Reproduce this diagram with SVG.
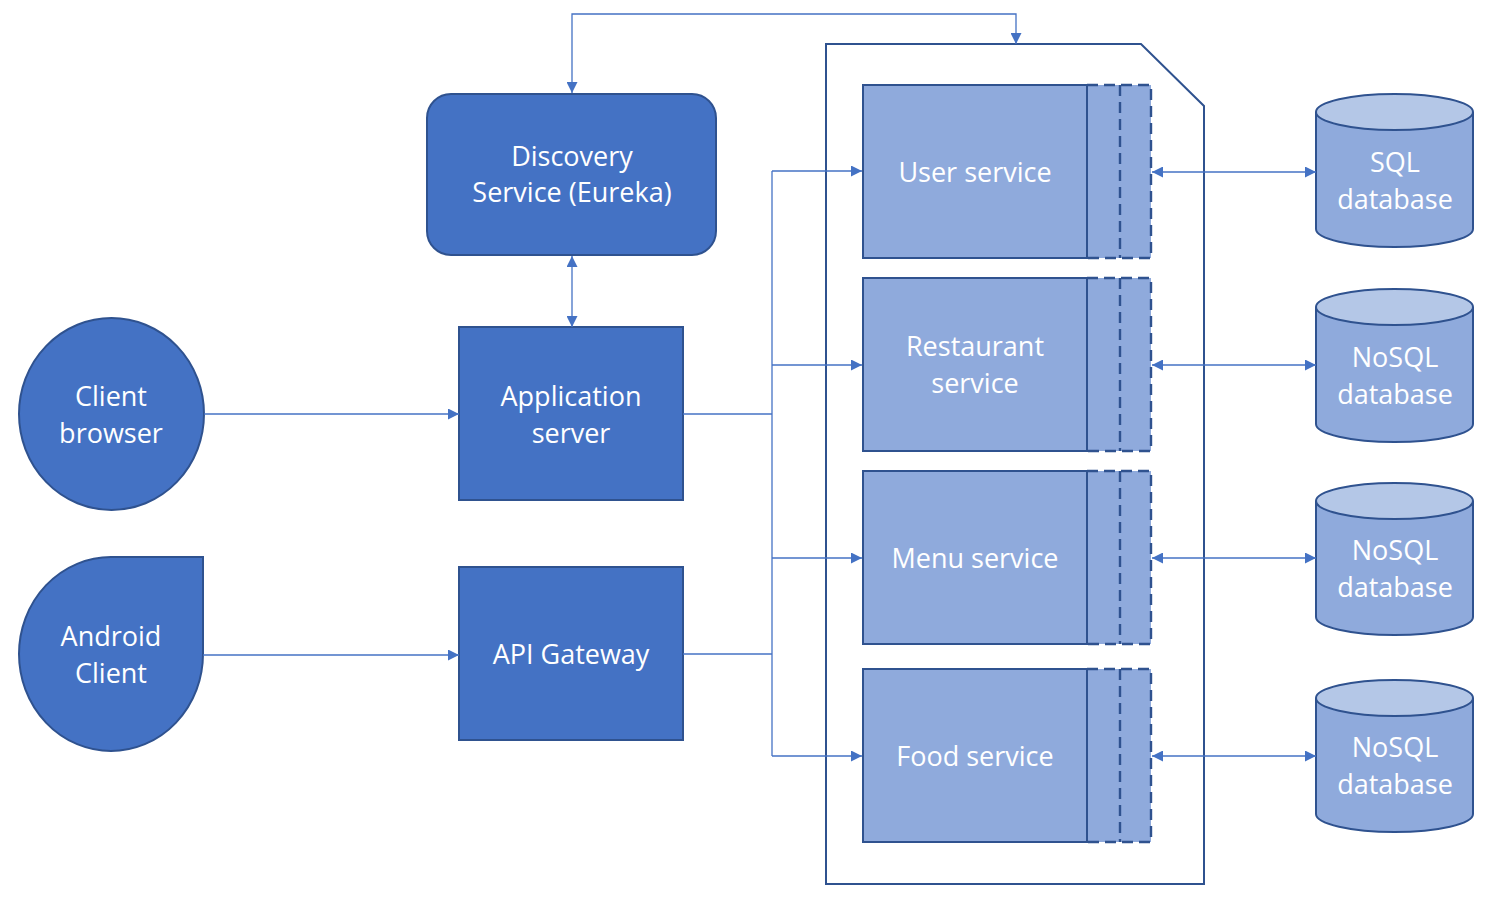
<svg xmlns="http://www.w3.org/2000/svg" width="1503" height="904" viewBox="0 0 1503 904">
<defs>
<style>
.dk{fill:#4472C4;stroke:#2F528F;stroke-width:2}
.lt{fill:#8FAADC;stroke:#2F528F;stroke-width:2}
.dash{fill:none;stroke:#2F528F;stroke-width:2.4;stroke-dasharray:11,6}
.t{font-family:"Open Sans","Noto Sans",sans-serif;font-size:27px;fill:#FFFFFF;text-anchor:middle}
.c{fill:none;stroke:#4472C4;stroke-width:1.3}
</style>
<marker id="a" viewBox="0 0 10 10" refX="10" refY="5" markerWidth="11" markerHeight="11" markerUnits="userSpaceOnUse" orient="auto-start-reverse">
<path d="M0 0 L10 5 L0 10 Z" fill="#4472C4"/>
</marker>
</defs>
<rect width="1503" height="904" fill="#FFFFFF"/>

<g id="container">
<path d="M826 44 L1141 44 L1204 106 L1204 884 L826 884 Z" fill="none" stroke="#2F528F" stroke-width="2"/>
</g>

<g id="discovery">
<rect x="427" y="94" width="289" height="161" rx="24" class="dk"/>
<text class="t" x="572" y="166">Discovery</text>
<text class="t" x="572" y="202">Service (Eureka)</text>
</g>

<g id="app-server">
<rect x="459" y="327" width="224" height="173" class="dk"/>
<text class="t" x="571" y="406">Application</text>
<text class="t" x="571" y="443">server</text>
</g>

<g id="api-gateway">
<rect x="459" y="567" width="224" height="173" class="dk"/>
<text class="t" x="571" y="664">API Gateway</text>
</g>

<g id="client-browser">
<ellipse cx="111.5" cy="414" rx="92.5" ry="96" class="dk"/>
<text class="t" x="111" y="406">Client</text>
<text class="t" x="111" y="443">browser</text>
</g>

<g id="android-client">
<path d="M111 557 L203 557 L203 654 A92 97 0 1 1 111 557 Z" class="dk"/>
<text class="t" x="111" y="646">Android</text>
<text class="t" x="111" y="683">Client</text>
</g>

<g id="user-service">
<rect x="1087" y="85" width="64" height="173" fill="#8FAADC"/>
<path d="M1087 85 H1151 V258 H1087 M1120 85 V258" class="dash"/>
<rect x="863" y="85" width="224" height="173" class="lt"/>
<text class="t" x="975" y="182">User service</text>
</g>

<g id="restaurant-service">
<rect x="1087" y="278" width="64" height="173" fill="#8FAADC"/>
<path d="M1087 278 H1151 V451 H1087 M1120 278 V451" class="dash"/>
<rect x="863" y="278" width="224" height="173" class="lt"/>
<text class="t" x="975" y="356">Restaurant</text>
<text class="t" x="975" y="393">service</text>
</g>

<g id="menu-service">
<rect x="1087" y="471" width="64" height="173" fill="#8FAADC"/>
<path d="M1087 471 H1151 V644 H1087 M1120 471 V644" class="dash"/>
<rect x="863" y="471" width="224" height="173" class="lt"/>
<text class="t" x="975" y="568">Menu service</text>
</g>

<g id="food-service">
<rect x="1087" y="669" width="64" height="173" fill="#8FAADC"/>
<path d="M1087 669 H1151 V842 H1087 M1120 669 V842" class="dash"/>
<rect x="863" y="669" width="224" height="173" class="lt"/>
<text class="t" x="975" y="766">Food service</text>
</g>

<g id="sql-db">
<path d="M1316 112 V229 A78.5 18 0 0 0 1473 229 V112" class="lt"/>
<ellipse cx="1394.5" cy="112" rx="78.5" ry="18" fill="#B4C7E7" stroke="#2F528F" stroke-width="2"/>
<text class="t" x="1395" y="172">SQL</text>
<text class="t" x="1395" y="209">database</text>
</g>

<g id="nosql-db-1">
<path d="M1316 307 V424 A78.5 18 0 0 0 1473 424 V307" class="lt"/>
<ellipse cx="1394.5" cy="307" rx="78.5" ry="18" fill="#B4C7E7" stroke="#2F528F" stroke-width="2"/>
<text class="t" x="1395" y="367">NoSQL</text>
<text class="t" x="1395" y="404">database</text>
</g>

<g id="nosql-db-2">
<path d="M1316 501 V617 A78.5 18 0 0 0 1473 617 V501" class="lt"/>
<ellipse cx="1394.5" cy="501" rx="78.5" ry="18" fill="#B4C7E7" stroke="#2F528F" stroke-width="2"/>
<text class="t" x="1395" y="560">NoSQL</text>
<text class="t" x="1395" y="597">database</text>
</g>

<g id="nosql-db-3">
<path d="M1316 698 V814 A78.5 18 0 0 0 1473 814 V698" class="lt"/>
<ellipse cx="1394.5" cy="698" rx="78.5" ry="18" fill="#B4C7E7" stroke="#2F528F" stroke-width="2"/>
<text class="t" x="1395" y="757">NoSQL</text>
<text class="t" x="1395" y="794">database</text>
</g>

<g id="connectors">
<path class="c" d="M572 93 V14 H1016 V44" marker-start="url(#a)" marker-end="url(#a)"/>
<path class="c" d="M572 256 V327" marker-start="url(#a)" marker-end="url(#a)"/>
<path class="c" d="M204 414 H459" marker-end="url(#a)"/>
<path class="c" d="M203 655 H459" marker-end="url(#a)"/>
<path class="c" d="M683 414 H772"/>
<path class="c" d="M683 654 H772"/>
<path class="c" d="M772 171 V756"/>
<path class="c" d="M772 171 H862" marker-end="url(#a)"/>
<path class="c" d="M772 365 H862" marker-end="url(#a)"/>
<path class="c" d="M772 558 H862" marker-end="url(#a)"/>
<path class="c" d="M772 756 H862" marker-end="url(#a)"/>
<path class="c" d="M1152 172 H1316" marker-start="url(#a)" marker-end="url(#a)"/>
<path class="c" d="M1152 365 H1316" marker-start="url(#a)" marker-end="url(#a)"/>
<path class="c" d="M1152 558 H1316" marker-start="url(#a)" marker-end="url(#a)"/>
<path class="c" d="M1152 756 H1316" marker-start="url(#a)" marker-end="url(#a)"/>
</g>
</svg>
